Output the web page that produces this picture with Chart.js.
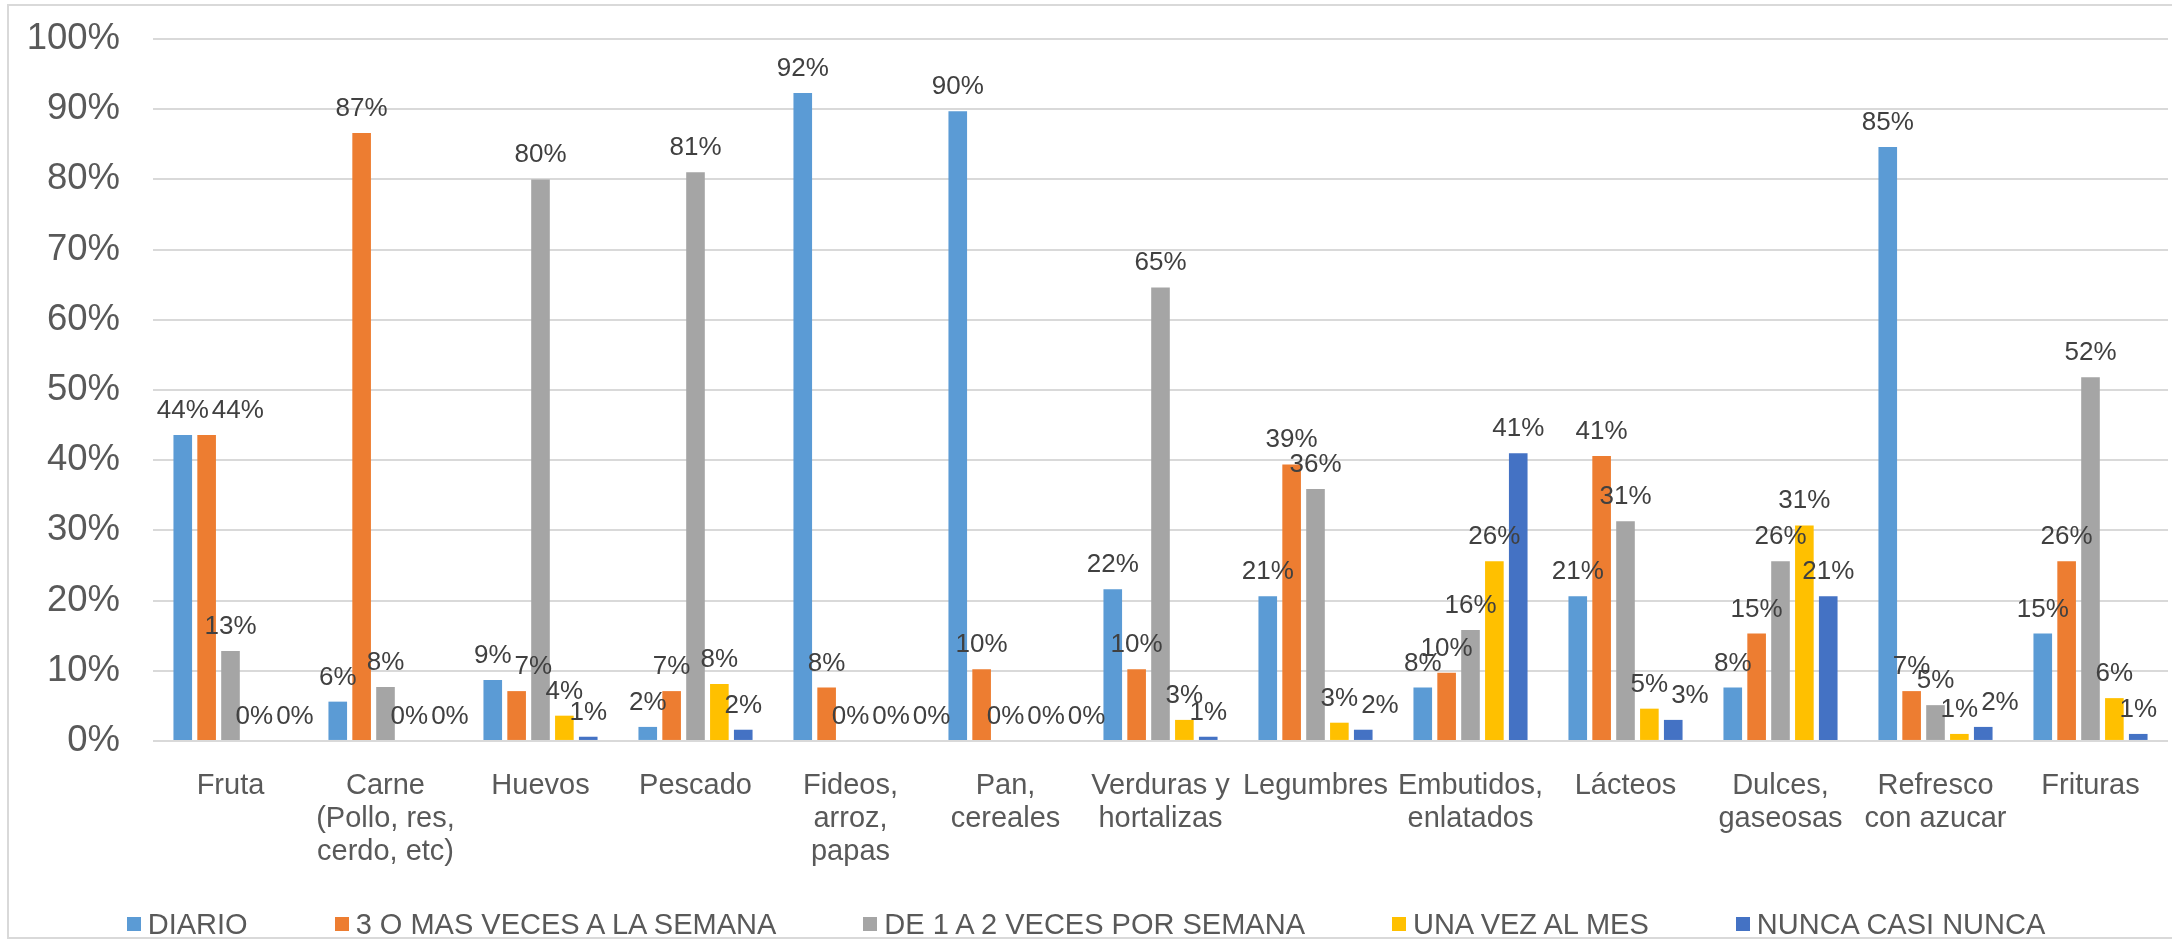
<!DOCTYPE html>
<html>
<head>
<meta charset="utf-8">
<script src="https://cdn.jsdelivr.net/npm/chart.js@4.4.1/dist/chart.umd.min.js"></script>
<style>
  html, body { margin: 0; padding: 0; background: #fff; }
  #wrap { position: relative; width: 2172px; height: 939px; overflow: hidden; }
  #frame { position: absolute; left: 7px; top: 4px; width: 2200px; height: 935px; border: 2px solid #d9d9d9; box-sizing: border-box; }
  #chart { position: absolute; left: 0; top: 0; }
  #legend { position: absolute; left: 0; top: 906px; width: 2172px; display: flex; justify-content: center; gap: 87px;
            font: 29px "Liberation Sans", Arial, sans-serif; color: #595959; line-height: 36px; white-space: nowrap; }
  .item { display: flex; align-items: center; }
  .box { width: 14px; height: 14px; margin-right: 7px; }
</style>
</head>
<body>
<div id="wrap">
  <div id="frame"></div>
  <canvas id="chart" width="2172" height="939"></canvas>
  <div id="legend"></div>
</div>
<script>
const categories = [
  ["Fruta"], ["Carne", "(Pollo, res,", "cerdo, etc)"], ["Huevos"], ["Pescado"],
  ["Fideos,", "arroz,", "papas"], ["Pan,", "cereales"], ["Verduras y", "hortalizas"],
  ["Legumbres"], ["Embutidos,", "enlatados"], ["Lácteos"], ["Dulces,", "gaseosas"],
  ["Refresco", "con azucar"], ["Frituras"]
];
const seriesNames = ["DIARIO", "3 O MAS VECES A LA SEMANA", "DE 1 A 2 VECES POR SEMANA", "UNA VEZ AL MES", "NUNCA CASI NUNCA"];
const diario    = [43.6, 5.6, 8.7, 2.0, 92.3, 89.7, 21.6, 20.6, 7.6, 20.6, 7.6, 84.6, 15.3];
const tresOMas  = [43.6, 86.6, 7.1, 7.1, 7.6, 10.2, 10.2, 39.4, 9.7, 40.6, 15.3, 7.1, 25.6];
const unoADos   = [12.8, 7.7, 80.0, 81.0, 0, 0, 64.6, 35.9, 15.8, 31.3, 25.6, 5.1, 51.8];
const unaVezMes = [0, 0, 3.6, 8.1, 0, 0, 3.0, 2.6, 25.6, 4.6, 30.7, 1.0, 6.1];
const nunca     = [0, 0, 0.6, 1.6, 0, 0, 0.6, 1.6, 41.0, 3.0, 20.6, 2.0, 1.0];
const colors = ["#5B9BD5", "#ED7D31", "#A5A5A5", "#FFC000", "#4472C4"];

const FONT = "'Liberation Sans', Arial, sans-serif";
Chart.defaults.font.family = FONT;

// value labels above bars, nudged right when they bump into a neighbour
const barLabels = {
  id: "barLabels",
  afterDatasetsDraw(chart) {
    const ctx = chart.ctx;
    ctx.save();
    ctx.font = "26px " + FONT;
    ctx.fillStyle = "#404040";
    ctx.textAlign = "center";
    ctx.textBaseline = "alphabetic";
    categories.forEach((c, i) => {
      const placed = [];
      chart.data.datasets.forEach((ds, d) => {
        const bar = chart.getDatasetMeta(d).data[i];
        const text = Math.round(ds.data[i]) + "%";
        const w = ctx.measureText(text).width;
        let x = bar.x;
        const y = bar.y - 17;
        placed.forEach(p => {
          if (Math.abs(p.y - y) < 14 && x - w / 2 < p.right + 3 && x + w / 2 > p.left) {
            x = p.right + 3 + w / 2;
          }
        });
        placed.push({ y: y, left: x - w / 2, right: x + w / 2 });
        ctx.fillText(text, x, y);
      });
    });
    ctx.restore();
  }
};

const allSeries = [diario, tresOMas, unoADos, unaVezMes, nunca];

new Chart(document.getElementById("chart"), {
  type: "bar",
  data: {
    labels: categories,
    datasets: allSeries.map((s, k) => ({
      label: seriesNames[k],
      data: s,
      backgroundColor: colors[k],
      categoryPercentage: 0.77,
      barPercentage: 0.78
    }))
  },
  options: {
    responsive: false,
    animation: false,
    layout: { padding: { top: 39, right: 4, bottom: 50, left: 0 } },
    plugins: {
      legend: { display: false },
      tooltip: { enabled: false }
    },
    scales: {
      x: {
        grid: { display: false },
        border: { display: false },
        ticks: {
          color: "#595959",
          font: { size: 29, lineHeight: 1.15 },
          padding: 20,
          maxRotation: 0,
          autoSkip: false
        }
      },
      y: {
        min: 0,
        max: 100,
        grid: { color: "#d9d9d9", lineWidth: 2, drawTicks: false },
        border: { display: false },
        ticks: {
          stepSize: 10,
          color: "#595959",
          // small lineHeight so the top label does not push the plot down
          font: { size: 36.5, lineHeight: 0.3 },
          padding: 33,
          callback: v => v + "%"
        },
        afterFit(scale) { scale.width = 153; }
      }
    }
  },
  plugins: [barLabels]
});

const legend = document.getElementById("legend");
seriesNames.forEach((name, k) => {
  const item = document.createElement("div");
  item.className = "item";
  const box = document.createElement("span");
  box.className = "box";
  box.style.background = colors[k];
  const txt = document.createElement("span");
  txt.textContent = name;
  item.appendChild(box);
  item.appendChild(txt);
  legend.appendChild(item);
});
</script>
</body>
</html>
